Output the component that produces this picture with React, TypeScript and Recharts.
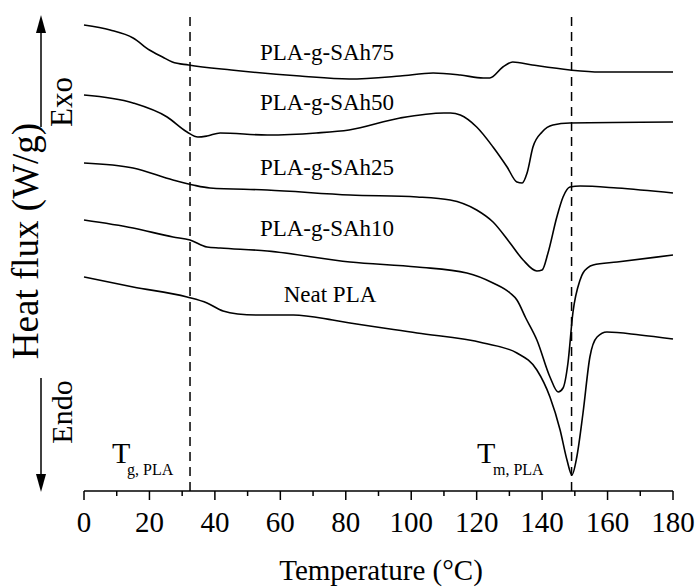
import React from 'react';
import { LineChart, Line, XAxis, YAxis, ReferenceLine } from 'recharts';

// temperature (°C) and heat flux (arbitrary offset, W/g)
const sah75: [number, number][] = [
  [0, 4.66], [8, 4.61], [15, 4.53], [20, 4.41], [24, 4.34], [27, 4.29], [32, 4.26],
  [45, 4.21], [66, 4.15], [81, 4.12], [96.6, 4.15], [106.7, 4.18], [115, 4.16],
  [122, 4.13], [124, 4.13], [128, 4.24], [131, 4.29], [137, 4.26], [148.5, 4.21],
  [157.7, 4.19], [180, 4.19],
];

const sah50: [number, number][] = [
  [0, 3.96], [15, 3.88], [25.4, 3.74], [31.5, 3.59], [34.8, 3.54], [37.6, 3.55],
  [41.6, 3.58], [56, 3.56], [71, 3.58], [81, 3.61], [96.6, 3.73], [110, 3.78],
  [112, 3.78], [115, 3.76], [120, 3.64], [125, 3.44], [129.3, 3.24], [132.3, 3.09],
  [133.9, 3.08], [135.4, 3.18], [137.2, 3.44], [140, 3.59], [143.3, 3.66],
  [148.5, 3.68], [180, 3.69],
];

const sah25: [number, number][] = [
  [0, 3.28], [15, 3.23], [27.2, 3.11], [33.3, 3.06], [38.5, 3.03], [56, 3.01],
  [81.3, 2.96], [101.8, 2.94], [111.9, 2.91], [120, 2.81], [125, 2.69], [130.2, 2.48],
  [134.2, 2.31], [138.4, 2.2], [140, 2.21], [141.8, 2.38], [144.5, 2.74], [146.4, 2.94],
  [148.5, 3.04], [151.6, 3.05], [162.9, 3.03], [180, 2.98],
];

const sah10: [number, number][] = [
  [0, 2.71], [15, 2.63], [27.2, 2.54], [32.4, 2.51], [37.6, 2.44], [41.6, 2.43],
  [56, 2.4], [81.3, 2.29], [101.8, 2.24], [117, 2.18], [125, 2.08], [130.2, 1.98],
  [132.3, 1.91], [135, 1.73], [138.4, 1.51], [142.4, 1.14], [144.9, 0.99], [146.4, 1.03],
  [147.9, 1.28], [149.4, 1.78], [151.6, 2.11], [152.5, 2.18], [155.6, 2.26],
  [162.9, 2.29], [180, 2.36],
];

const neat: [number, number][] = [
  [0, 2.14], [15, 2.04], [31.5, 1.94], [37.6, 1.88], [42.5, 1.8], [47, 1.77],
  [52.9, 1.76], [64, 1.76], [76, 1.71], [81.3, 1.68], [101.8, 1.58], [122, 1.48],
  [132.3, 1.38], [138.4, 1.21], [142.4, 0.94], [145.5, 0.61], [147.6, 0.31],
  [149.1, 0.16], [150.6, 0.34], [152.5, 0.78], [154.6, 1.34], [156.8, 1.54],
  [159.8, 1.59], [169.9, 1.56], [180, 1.52],
];

const xTicks = [0, 10, 20, 30, 40, 50, 60, 70, 80, 90, 100, 110, 120, 130, 140, 150, 160, 170, 180];
const tgPla = 32.4;
const tmPla = 149;

const FONT = '"Liberation Serif", "Times New Roman", serif';

const toRows = (pts: [number, number][]) => pts.map(([t, v]) => ({ t, v }));

const series = [
  { name: 'PLA-g-SAh75', data: toRows(sah75) },
  { name: 'PLA-g-SAh50', data: toRows(sah50) },
  { name: 'PLA-g-SAh25', data: toRows(sah25) },
  { name: 'PLA-g-SAh10', data: toRows(sah10) },
  { name: 'Neat PLA', data: toRows(neat) },
];

function XTick(props: any) {
  const { x, y, payload } = props;
  const major = payload.value % 20 === 0;
  return (
    <g>
      <line x1={x} x2={x} y1={y} y2={y + (major ? 9 : 5)} stroke="#000" strokeWidth={1.5} />
      {major && (
        <text x={x} y={y + 41} textAnchor="middle" fontFamily={FONT} fontSize={29} fill="#000">
          {payload.value}
        </text>
      )}
    </g>
  );
}

export default function App() {
  return (
    <div style={{ position: 'absolute', left: 0, top: 0, width: 699, height: 588, background: '#fff' }}>
      <LineChart width={699} height={588} margin={{ top: 15, right: 26, bottom: 0, left: 84 }}>
        <XAxis
          type="number"
          dataKey="t"
          domain={[0, 180]}
          ticks={xTicks}
          interval={0}
          height={97}
          tickSize={0}
          tickMargin={0}
          tickLine={false}
          tick={<XTick />}
          axisLine={{ stroke: '#000', strokeWidth: 1.5 }}
          allowDuplicatedCategory={false}
        />
        <YAxis
          type="number"
          dataKey="v"
          domain={[0, 4.76]}
          width={0}
          tick={false}
          tickLine={false}
          axisLine={{ stroke: '#000', strokeWidth: 1.5 }}
        />
        <ReferenceLine x={tgPla} stroke="#000" strokeWidth={1.5} strokeDasharray="9 6" />
        <ReferenceLine x={tmPla} stroke="#000" strokeWidth={1.5} strokeDasharray="9 6" />
        {series.map((s) => (
          <Line
            key={s.name}
            name={s.name}
            data={s.data}
            dataKey="v"
            type="monotone"
            stroke="#000"
            strokeWidth={1.6}
            dot={false}
            activeDot={false}
            isAnimationActive={false}
          />
        ))}
      </LineChart>
      <svg
        width={699}
        height={588}
        style={{ position: 'absolute', left: 0, top: 0, pointerEvents: 'none' }}
        fontFamily={FONT}
        fill="#000"
      >
        <text x={327} y={60} textAnchor="middle" fontSize={23}>PLA-g-SAh75</text>
        <text x={327} y={110} textAnchor="middle" fontSize={23}>PLA-g-SAh50</text>
        <text x={327} y={175} textAnchor="middle" fontSize={23}>PLA-g-SAh25</text>
        <text x={327} y={236} textAnchor="middle" fontSize={23}>PLA-g-SAh10</text>
        <text x={330} y={302} textAnchor="middle" fontSize={23}>Neat PLA</text>

        <text x={112} y={463} fontSize={30}>T</text>
        <text x={127} y={475} fontSize={16}>g, PLA</text>
        <text x={477} y={463} fontSize={30}>T</text>
        <text x={493} y={475} fontSize={16}>m, PLA</text>

        <text x={381} y={580} textAnchor="middle" fontSize={29}>Temperature (°C)</text>
        <text transform="translate(38,241) rotate(-90)" textAnchor="middle" fontSize={37}>Heat flux (W/g)</text>
        <text transform="translate(72,102) rotate(-90)" textAnchor="middle" fontSize={31}>Exo</text>
        <text transform="translate(72,412) rotate(-90)" textAnchor="middle" fontSize={30}>Endo</text>

        <line x1={41} x2={41} y1={127} y2={30} stroke="#000" strokeWidth={1.5} />
        <polygon points="41,15 36,33 46,33" fill="#000" />
        <line x1={41} x2={41} y1={378} y2={477} stroke="#000" strokeWidth={1.5} />
        <polygon points="41,492 36,474 46,474" fill="#000" />
      </svg>
    </div>
  );
}
